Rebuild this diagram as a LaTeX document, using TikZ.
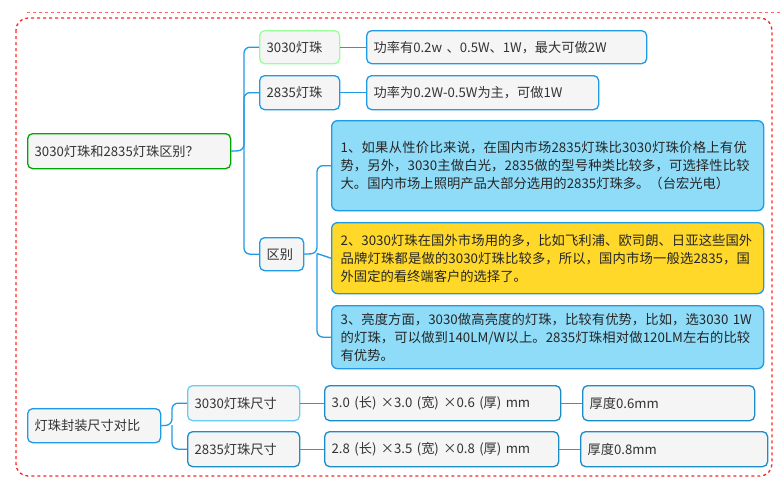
\documentclass[tikz,border=0pt]{standalone}
\usepackage{fontspec}
\setmainfont{Noto Sans CJK SC}
\XeTeXlinebreaklocale "zh"
\XeTeXlinebreakskip=0pt plus 1pt
\definecolor{bl}{HTML}{1E9AE6}
\definecolor{bl2}{HTML}{1A8CC8}
\definecolor{lc}{HTML}{8EDCF8}
\definecolor{yl}{HTML}{FFD829}
\begin{document}
\begin{tikzpicture}[x=1pt,y=-1pt,
  box/.style={draw=#1,line width=1.3pt,rounded corners=5pt,fill=gray!8,font=\fontsize{13.2}{15}\selectfont,text=black!80,inner ysep=0pt,inner xsep=7pt,align=left},
  tb/.style={draw=#1,line width=1.3pt,rounded corners=6pt,align=left,font=\fontsize{13.3}{18}\selectfont,text=black!85,text width=414pt,inner xsep=9pt,inner ysep=0pt},
  ln/.style={draw=bl,line width=1.3pt,rounded corners=6pt}]
\useasboundingbox (0,0) rectangle (782,483);
\draw[red!60,dashed,line width=0.8pt] (27,12) -- (780,12);
\draw[red!85,dashed,line width=1.3pt,rounded corners=12pt] (16,18) rectangle (772,476);
\def\bx#1#2#3#4#5#6#7{\node[box=#6,text width=#3-#2-14pt,minimum height=#5-#4,anchor=north west] (#1) at (#2,#4) {#7};}
\bx{root}{27}{230}{133}{168}{green!65!black}{3030灯珠和2835灯珠区别？}
\bx{a}{259}{339}{30}{63}{green!40}{3030灯珠}
\bx{ad}{366}{646}{30}{63}{bl}{功率有0.2w 、0.5W、1W，最大可做2W}
\bx{b}{259}{339}{75}{109}{bl}{2835灯珠}
\bx{bd}{366}{598}{75}{109}{bl}{功率为0.2W-0.5W为主，可做1W}
\bx{c}{259}{303}{237}{270}{bl}{区别}
\node[tb=bl,fill=lc,minimum height=90pt,anchor=north west] (c1) at (331,120) {1、如果从性价比来说，在国内市场2835灯珠比3030灯珠价格上有优势，另外，3030主做白光，2835做的型号种类比较多，可选择性比较大。国内市场上照明产品大部分选用的2835灯珠多。（台宏光电）};
\node[tb=bl,fill=yl,minimum height=71pt,anchor=north west] (c2) at (331,222) {2、3030灯珠在国外市场用的多，比如飞利浦、欧司朗、日亚这些国外品牌灯珠都是做的3030灯珠比较多，所以，国内市场一般选2835，国外固定的看终端客户的选择了。};
\node[tb=bl,fill=lc,minimum height=63pt,anchor=north west] (c3) at (331,305) {3、亮度方面，3030做高亮度的灯珠，比较有优势，比如，选3030 1W的灯珠，可以做到140LM/W以上。2835灯珠相对做120LM左右的比较有优势。};
\bx{r2}{27}{160}{408}{442}{bl}{灯珠封装尺寸对比}
\bx{d}{187}{299}{385}{420}{cyan!60}{3030灯珠尺寸}
\bx{e}{187}{299}{431}{466}{bl2}{2835灯珠尺寸}
\bx{dd}{324}{560}{385}{420}{bl2}{3.0 (长) ×3.0 (宽) ×0.6 (厚) mm}
\bx{ed}{324}{558}{431}{466}{bl2}{2.8 (长) ×3.5 (宽) ×0.8 (厚) mm}
\bx{dt}{582}{754}{385}{420}{bl2}{厚度0.6mm}
\bx{et}{580}{767}{431}{466}{bl2}{厚度0.8mm}
\draw[ln] (root.east) -- (244,150.5) |- (a.west);
\draw[ln] (244,150.5) |- (b.west);
\draw[ln] (244,150.5) |- (c.west);
\draw[ln] (a) -- (ad); \draw[ln] (b) -- (bd);
\draw[ln] (c.east) -- (317,253.5) |- (c1.west);
\draw[ln] (317,253.5) -- (c2.west);
\draw[ln] (317,253.5) |- (c3.west);
\draw[ln] (r2.east) -- (172,425) |- (d.west);
\draw[ln] (172,425) |- (e.west);
\draw[ln] (d) -- (dd); \draw[ln] (dd) -- (dt);
\draw[ln] (e) -- (ed); \draw[ln] (ed) -- (et);
\end{tikzpicture}
\end{document}
